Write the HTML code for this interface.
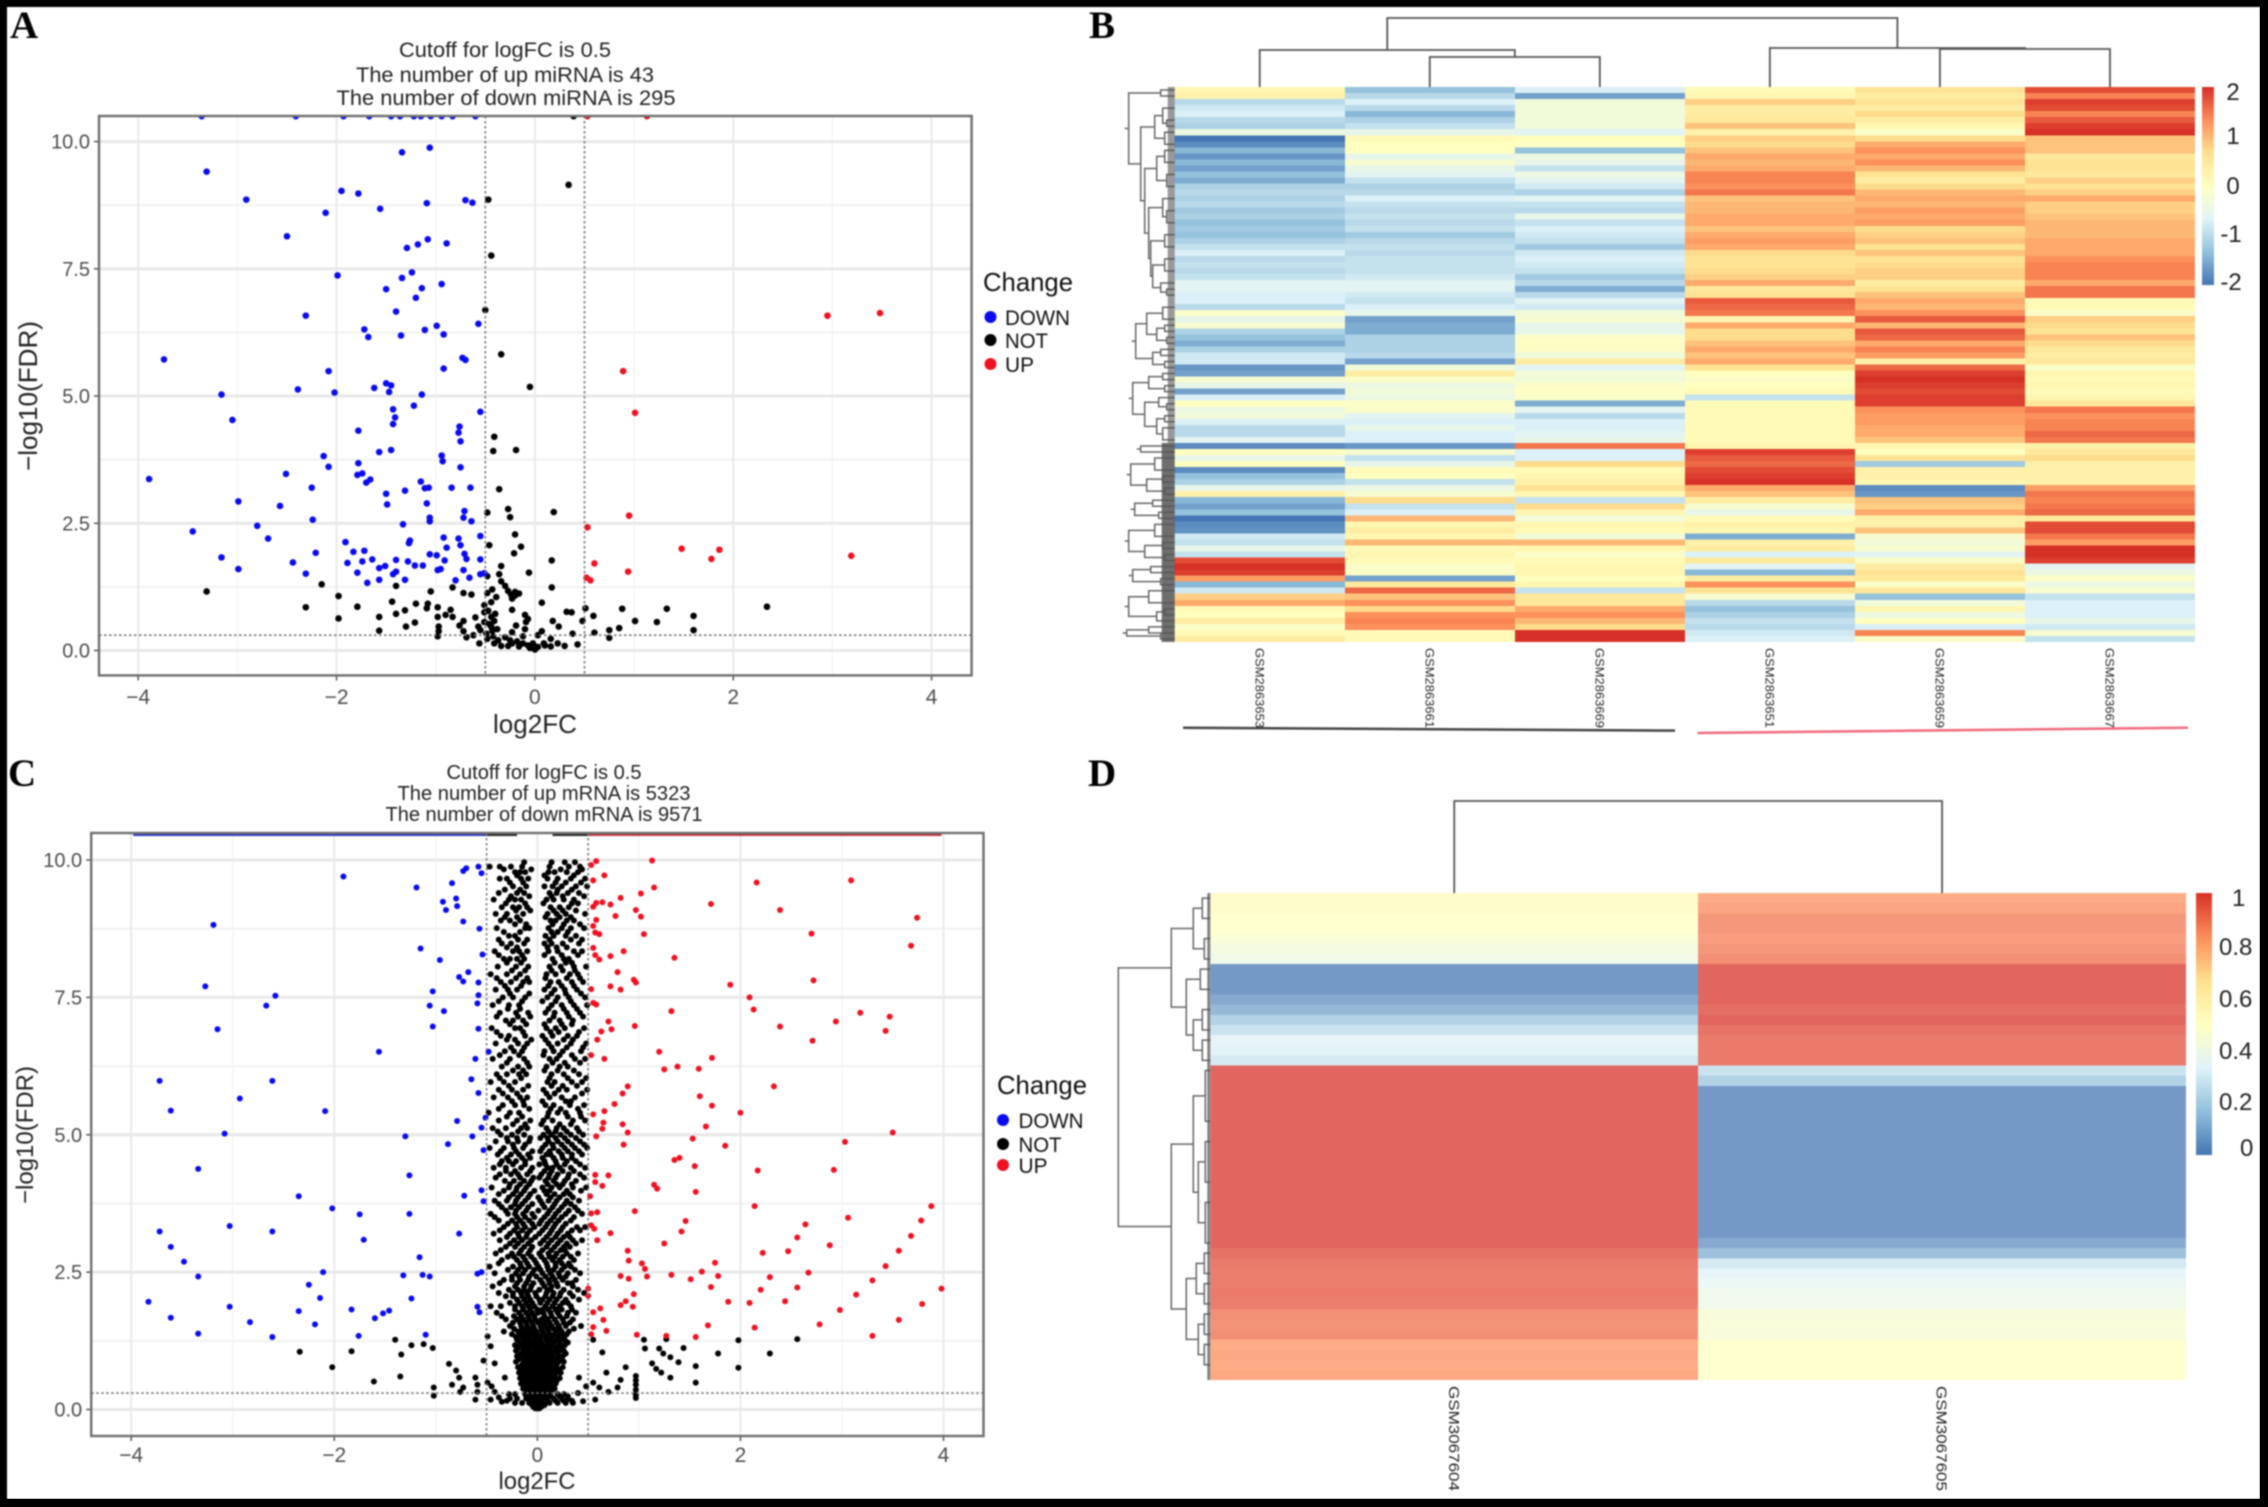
<!DOCTYPE html>
<html lang="en">
<head>
<meta charset="utf-8">
<title>Volcano plots and heatmaps of miRNA and mRNA</title>
<style>
html,body{margin:0;padding:0;background:#000;}
svg{display:block;font-family:"Liberation Sans",Arial,sans-serif;}
#content{filter:blur(.8px);}
.serif{font-family:"Liberation Serif","Times New Roman",serif;font-weight:bold;fill:#000;}
</style>
</head>
<body>
<svg id="root" xmlns="http://www.w3.org/2000/svg" width="2268" height="1507" viewBox="0 0 2268 1507">
<defs>
<linearGradient id="heatGrad" x1="0" y1="1" x2="0" y2="0">
<stop offset="0" stop-color="#4575B4"/><stop offset=".1667" stop-color="#91BFDB"/><stop offset=".3333" stop-color="#E0F3F8"/><stop offset=".5" stop-color="#FFFFBF"/><stop offset=".6667" stop-color="#FEE090"/><stop offset=".8333" stop-color="#FC8D59"/><stop offset="1" stop-color="#D73027"/>
</linearGradient>
<clipPath id="clipA"><rect x="99" y="116" width="873" height="560"/></clipPath>
<clipPath id="clipC"><rect x="91" y="833" width="893" height="603"/></clipPath>
</defs>
<rect x="0" y="0" width="2268" height="1507" fill="#000"/>
<g id="content">
<rect x="7" y="7" width="2253" height="1492" fill="#fff"/>
<text class="serif" x="10" y="38" font-size="39">A</text>
<text class="serif" x="1089" y="38" font-size="39">B</text>
<text class="serif" x="8" y="786" font-size="39">C</text>
<text class="serif" x="1088" y="786" font-size="39">D</text>

<g font-size="21" fill="#222" text-anchor="middle">
<text x="505" y="57" textLength="212" lengthAdjust="spacingAndGlyphs">Cutoff for logFC is 0.5</text>
<text x="505" y="82" textLength="298" lengthAdjust="spacingAndGlyphs">The number of up miRNA is 43</text>
<text x="506" y="105" textLength="339" lengthAdjust="spacingAndGlyphs">The number of down miRNA is 295</text>
</g>
<g font-size="20" fill="#222" text-anchor="middle">
<text x="544" y="779" textLength="195" lengthAdjust="spacingAndGlyphs">Cutoff for logFC is 0.5</text>
<text x="544" y="800" textLength="293" lengthAdjust="spacingAndGlyphs">The number of up mRNA is 5323</text>
<text x="544" y="821" textLength="317" lengthAdjust="spacingAndGlyphs">The number of down mRNA is 9571</text>
</g>

<text x="535" y="733" font-size="26" text-anchor="middle" fill="#222" textLength="84" lengthAdjust="spacingAndGlyphs">log2FC</text>
<text transform="translate(37,396) rotate(-90)" font-size="26" text-anchor="middle" fill="#222" textLength="150" lengthAdjust="spacingAndGlyphs">−log10(FDR)</text>
<text x="537" y="1489" font-size="24" text-anchor="middle" fill="#222" textLength="77" lengthAdjust="spacingAndGlyphs">log2FC</text>
<text transform="translate(33,1135) rotate(-90)" font-size="24" text-anchor="middle" fill="#222" textLength="138" lengthAdjust="spacingAndGlyphs">−log10(FDR)</text>

<g fill="#111">
<text x="983" y="291" font-size="26" textLength="90" lengthAdjust="spacingAndGlyphs">Change</text>
<circle cx="990.5" cy="317" r="6" fill="#0a0aee"/>
<text x="1005" y="325" font-size="21" textLength="65" lengthAdjust="spacingAndGlyphs">DOWN</text>
<circle cx="990.5" cy="340" r="6" fill="#000"/>
<text x="1005" y="348" font-size="21" textLength="43" lengthAdjust="spacingAndGlyphs">NOT</text>
<circle cx="990.5" cy="364" r="6" fill="#ee1122"/>
<text x="1005" y="372" font-size="21" textLength="29" lengthAdjust="spacingAndGlyphs">UP</text>
</g>
<g fill="#111">
<text x="997" y="1094" font-size="26" textLength="90" lengthAdjust="spacingAndGlyphs">Change</text>
<circle cx="1003" cy="1120" r="6" fill="#0a0aee"/>
<text x="1018.5" y="1128" font-size="21" textLength="65" lengthAdjust="spacingAndGlyphs">DOWN</text>
<circle cx="1003" cy="1144" r="6" fill="#000"/>
<text x="1018.5" y="1152" font-size="21" textLength="43" lengthAdjust="spacingAndGlyphs">NOT</text>
<circle cx="1003" cy="1165" r="6" fill="#ee1122"/>
<text x="1018.5" y="1173" font-size="21" textLength="29" lengthAdjust="spacingAndGlyphs">UP</text>
</g>

<rect x="2202" y="87" width="12" height="198" fill="url(#heatGrad)"/>
<g font-size="24" fill="#222" text-anchor="middle">
<text x="2233" y="100">2</text>
<text x="2233" y="144">1</text>
<text x="2233" y="194">0</text>
<text x="2231" y="242">-1</text>
<text x="2231" y="290">-2</text>
</g>
<rect x="2196" y="893" width="16" height="262" fill="url(#heatGrad)"/>
<g font-size="24" fill="#222">
<text x="2232" y="906">1</text>
<text x="2219" y="955">0.8</text>
<text x="2219" y="1007">0.6</text>
<text x="2219" y="1059">0.4</text>
<text x="2219" y="1110">0.2</text>
<text x="2240" y="1156">0</text>
</g>

<line x1="1183" y1="727.7" x2="1675" y2="730.6" stroke="#444" stroke-width="2.5"/>
<line x1="1697.5" y1="733" x2="2188" y2="727.7" stroke="#f0697e" stroke-width="2.5"/>
<g id="dyn"></g>
</g>
<rect x="2260" y="0" width="8" height="1507" fill="#000"/>
<rect x="0" y="1499" width="2268" height="8" fill="#000"/>
</svg>
<script>
// ---------- shared tick values ----------
const xTicks = [-4,-2,0,2,4];
const xTickLabels = ["−4","−2","0","2","4"];
const xMinorTicks = [-3,-1,1,3];
const yTicks = [0,2.5,5,7.5,10];
const yTickLabels = ["0.0","2.5","5.0","7.5","10.0"];
const yMinorTicks = [1.25,3.75,6.25,8.75];
const cutoffX = [-0.5,0.5];
const cutoffY = 0.3;

// ---------- panel A values ----------
const aDown = [[-3.36,10.5],[-2.41,10.5],[-1.93,10.5],[-1.67,10.5],[-1.45,10.5],[-1.36,10.5],[-1.22,10.5],[-1.15,10.5],[-1.05,10.5],[-.94,10.5],[-.83,10.5],[-.6,10.5],
[-1.34,9.79],[-1.06,9.88],[-3.31,9.41],[-2.91,8.86],[-1.95,9.03],[-1.78,8.98],[-1.56,8.68],[-2.11,8.6],[-1.09,8.79],[-.7,8.85],[-.63,8.8],[-2.5,8.14],[-1.29,7.91],[-1.18,7.98],[-1.08,8.08],[-.89,8],[-1.99,7.37],[-1.24,7.43],[-1.34,7.32],[-.94,7.2],[-1.14,7.12],[-1.5,7.1],[-1.2,6.93],[-1.4,6.66],[-2.31,6.58],[-.57,6.42],[-.99,6.38],[-1.11,6.3],[-1.72,6.31],[-1.68,6.16],[-1.35,6.19],[-.92,6.21],[-3.74,5.72],[-.73,5.75],[-.7,5.71],[-.92,5.54],[-2.08,5.49],[-3.16,5.03],[-2.39,5.13],[-2.02,5.07],[-1.62,5.16],[-1.5,5.25],[-1.45,5.21],[-1.47,5.08],[-1.14,5.03],[-1.22,4.81],[-1.43,4.74],[-.55,4.69],[-3.05,4.53],[-1.41,4.58],[-1.43,4.45],[-.76,4.4],[-.77,4.28],[-1.78,4.32],[-.75,4.11],[-1.45,3.94],[-1.57,3.9],[-.94,3.83],[-.93,3.72],[-2.13,3.82],[-1.78,3.68],[-2.08,3.61],[-.75,3.6],[-3.89,3.37],[-2.51,3.47],[-1.79,3.45],[-1.74,3.48],[-1.66,3.36],[-1.7,3.3],[-1.15,3.32],[-2.25,3.2],[-1.07,3.2],[-1.11,3.19],[-.84,3.2],[-.65,3.2],[-1.31,3.14],[-1.5,3.08],[-2.99,2.93],[-2.57,2.84],[-1.49,2.87],[-1.09,2.89],[-.71,2.74],[-.72,2.61],[-1.06,2.61],[-1.06,2.54],[-2.24,2.57],[-.64,2.54],[-1.33,2.48],[-2.8,2.45],[-3.45,2.34],[-2.69,2.2],[-.92,2.22],[-.77,2.2],[-.55,2.25],[-1.26,2.16],[-1.27,2.11],[-1.91,2.13],[-.75,2.07],[-.89,2.02],[-1.83,1.94],[-1.72,1.96],[-2.21,1.92],[-1.06,1.89],[-.99,1.87],[-.71,1.9],[-3.16,1.83],[-.69,1.8],[-.55,1.79],[-1.64,1.79],[-1.4,1.78],[-1.74,1.75],[-1.89,1.72],[-2.44,1.73],[-1.28,1.75],[-.91,1.77],[-1.21,1.67],[-1.13,1.67],[-1.51,1.66],[-1.57,1.62],[-.98,1.58],[-2.99,1.6],[-1.79,1.53],[-2.31,1.51],[-1.4,1.55],[-1.43,1.5],[-.95,1.6],[-.72,1.58],[-.55,1.5],[-.51,1.52],[-1.57,1.39],[-1.31,1.39],[-.8,1.38],[-.66,1.43],[-1.69,1.33]];
const aNot = [[.39,10.5],[-.47,8.86],[.34,9.15],[-.44,7.76],[-.5,6.69],[-.34,5.82],[-.05,5.18],[-.41,4.2],[-.42,3.92],[-.19,3.94],[-.36,3.17],[-.48,2.71],[-.27,2.78],[-.25,2.62],[.19,2.72],[-.2,2.28],[-.46,2.07],[-.14,2.04],[-.21,1.91],[.17,1.77],[-.34,1.66],[-.36,1.5],[-.06,1.53],[-.48,1.46],[-.34,1.36],[-.3,1.27],[.17,1.24],[-1.4,1.27],[-2.15,1.3],[-3.31,1.16],[-1.05,1.16],[-.83,1.24],[-.72,1.13],[-.64,1.1],[-.48,1.13],[-.27,1.17],[-.2,1.08],[-.23,1.02],[-1.98,1.07],[-1.44,.96],[-1.2,.92],[-1.08,.92],[.07,.94],[-.51,.89],[-2.31,.85],[-1.79,.86],[2.34,.86],[1.33,.82],[.88,.82],[.51,.83],[-1.09,.83],[-1.31,.79],[-.98,.85],[-.85,.8],[-.51,.75],[-.23,.8],[.32,.76],[.37,.75],[-1.4,.72],[.59,.68],[1.6,.68],[-1.57,.66],[-.98,.66],[-.83,.66],[-.44,.66],[-.1,.7],[-1.98,.63],[1.01,.58],[1.23,.56],[.18,.58],[.48,.58],[-1.21,.55],[-.72,.58],[-.51,.56],[-.41,.58],[-.09,.56],[.24,.47],[-1.3,.47],[-.97,.47],[-.76,.49],[-.57,.47],[-.44,.47],[-.19,.49],[.85,.44],[.75,.4],[1.6,.4],[-1.57,.39],[-.97,.38],[-.72,.38],[-.43,.39],[-.23,.36],[.07,.38],[.6,.35],[.38,.33],[-.98,.28],[-.69,.26],[-.48,.23],[-.3,.26],[-.12,.28],[.75,.25],[.16,.23],[-.56,.14],[-.41,.14],[-.23,.14],[-.12,.14],[-.02,.14],[.09,.14],[.23,.14],[.43,.12],[-.34,.09],[-.16,.08],[-.05,.05],[0,.02],[.16,.08],[.3,.09],[-.27,.09],[-.44,.95],[-.47,.78],[-.4,.72],[-.46,.52],[-.38,.42],[-.49,.33],[-.42,.28],[-.37,.2],[-.25,.2],[-.18,.18],[-.07,.1],[.03,.07],[.1,.1],[-.2,1.15],[-.24,1.1],[-.16,1.12],[-.43,1.2],[-.39,1.05],[-.62,.3],[-.9,.7],[-.6,.65],[-.55,.4],[-.1,.42],[-.07,.62],[.03,.3]];
const aUp = [[.53,10.5],[1.13,10.5],[2.95,6.58],[3.48,6.63],[.89,5.49],[1.01,4.67],[.95,2.65],[.53,2.42],[1.48,2],[1.86,1.98],[1.78,1.8],[3.19,1.86],[.6,1.71],[.94,1.55],[.52,1.43],[.56,1.38]];

// ---------- panel C values ----------
const cDown = [[-1.91,9.7],[-1.19,9.5],[-.73,9.8],[-.7,9.85],[-.58,9.88],[-.55,9.76],[-.84,9.58],[-.8,9.3],[-.93,9.24],[-.79,9.16],[-.9,9.09],[-3.19,8.82],[-.73,8.88],[-.57,8.75],[-1.15,8.39],[-.96,8.18],[-.54,8.28],[-3.27,7.7],[-.68,7.96],[-.77,7.87],[-.73,7.79],[-.58,7.77],[-1.03,7.61],[-2.58,7.53],[-.58,7.54],[-2.67,7.35],[-1.06,7.35],[-.59,7.39],[-.92,7.25],[-3.15,6.92],[-1.03,6.97],[-.58,6.93],[-1.56,6.51],[-.48,6.51],[-.61,6.38],[-3.72,5.98],[-2.61,5.98],[-.65,6.01],[-2.93,5.66],[-.58,5.76],[-3.61,5.44],[-2.09,5.43],[-.51,5.31],[-.79,5.25],[-.55,5.13],[-3.08,5.02],[-1.3,4.97],[-.64,4.97],[-.88,4.83],[-.53,4.72],[-3.34,4.38],[-1.26,4.26],[-2.35,3.88],[-.55,3.99],[-.72,3.89],[-.53,3.79],[-2.02,3.66],[-1.75,3.55],[-1.26,3.56],[-3.72,3.24],[-3.03,3.34],[-2.61,3.24],[-.77,3.2],[-1.71,3.09],[-3.61,2.96],[-1.16,2.77],[-3.48,2.69],[-2.11,2.5],[-3.34,2.42],[-1.32,2.44],[-1.13,2.45],[-1.06,2.42],[-.59,2.47],[-.55,2.5],[-2.25,2.27],[-2.14,2.03],[-1.24,2.02],[-3.83,1.96],[-3.03,1.87],[-.59,1.87],[-.57,1.77],[-2.35,1.79],[-1.83,1.82],[-1.46,1.8],[-1.52,1.75],[-1.6,1.66],[-3.61,1.67],[-2.83,1.59],[-2.19,1.55],[-3.34,1.38],[-2.61,1.32],[-1.76,1.34],[-1.1,1.36]];
const cUp = [[.58,9.98],[.53,9.91],[1.13,9.99],[.66,9.72],[.55,9.63],[2.16,9.59],[3.09,9.63],[1.15,9.5],[1.02,9.39],[.82,9.31],[1.71,9.2],[.58,9.22],[.64,9.23],[.72,9.19],[.55,9.15],[.97,9.09],[2.39,9.09],[1.02,8.97],[.77,8.98],[3.74,8.95],[.58,8.91],[.55,8.8],[.57,8.68],[.61,8.65],[1.05,8.65],[2.7,8.66],[3.68,8.44],[.85,8.34],[.55,8.4],[.57,8.27],[.72,8.25],[.61,8.19],[1.35,8.22],[.79,7.96],[.95,7.82],[.97,7.77],[2.72,7.81],[.72,7.7],[.82,7.64],[1.9,7.73],[.53,7.65],[2.09,7.5],[.55,7.4],[.58,7.37],[2.13,7.28],[1.32,7.25],[3.18,7.22],[3.47,7.15],[2.94,7.06],[.7,7.06],[2.39,6.97],[.96,6.98],[.73,6.92],[.63,6.88],[3.43,6.89],[.59,6.73],[2.71,6.71],[1.2,6.51],[.53,6.45],[1.72,6.4],[.66,6.38],[1.38,6.24],[1.25,6.19],[1.59,6.2],[.89,5.88],[2.33,5.88],[.84,5.75],[1.6,5.7],[.76,5.56],[1.72,5.53],[.66,5.43],[2,5.4],[.55,5.37],[.84,5.19],[.65,5.22],[1.66,5.15],[3.5,5.04],[.64,5.11],[.89,5.04],[.58,4.97],[1.53,4.93],[3.03,4.87],[.85,4.82],[1.85,4.8],[1.4,4.58],[1.35,4.54],[1.55,4.43],[2.17,4.35],[2.92,4.36],[.7,4.26],[.57,4.27],[.57,4.14],[.64,4.07],[1.15,4.09],[1.18,4.02],[1.56,3.96],[.52,3.88],[2.14,3.7],[3.88,3.7],[.59,3.59],[.96,3.61],[.53,3.57],[3.06,3.49],[1.46,3.43],[3.78,3.44],[2.64,3.37],[.53,3.35],[.56,3.29],[1.42,3.24],[.72,3.21],[3.68,3.16],[2.56,3.13],[.59,3.08],[1.25,3.02],[2.88,2.99],[3.56,2.89],[.89,2.89],[2.47,2.88],[2.22,2.85],[.9,2.71],[1.75,2.67],[1.03,2.66],[3.43,2.61],[1.06,2.56],[1.62,2.51],[2.67,2.49],[.82,2.43],[1.32,2.45],[1.08,2.42],[1.78,2.43],[2.29,2.41],[.9,2.38],[1.51,2.37],[3.3,2.35],[1.71,2.23],[2.56,2.22],[3.98,2.2],[2.2,2.18],[.5,2.2],[3.14,2.09],[.95,2.1],[.5,2.07],[.87,1.97],[1.88,1.96],[2.09,1.94],[2.44,1.97],[.82,1.9],[.94,1.87],[3.79,1.92],[2.98,1.81],[.62,1.84],[.55,1.77],[.55,1.5],[.65,1.63],[3.56,1.63],[2.78,1.55],[1.68,1.53],[2.14,1.49],[.68,1.43],[.98,1.36],[3.3,1.34],[1.27,1.34],[1.56,1.32],[.53,1.37]];
const cNotOutliers = [[-2.34,1.05],[-1.83,1.06],[-2.02,.77],[-1.4,1.27],[-1.24,1.17],[-1.12,1.19],[-1.03,1.12],[-1.34,1],[-1.61,.51],[-1.35,.6],[-1.02,.4],[-1.02,.25],[-.87,.83],[-.8,.71],[-.77,.58],[-.84,.45],[-.73,.4],[-.76,.32],[-.61,.58],[-.59,.45],[-.59,.32],[-.61,.18],[-.49,.49],[-.53,.89],[-.46,1.15],[-.49,1.33],[-.42,.84],[-.46,.18],[-.35,.14],[-.32,.58],[1.98,1.26],[2.56,1.28],[2.29,1.02],[1.78,1.02],[1.98,.76],[1.56,.79],[1.56,.49],[1.44,1.12],[1.27,1.28],[1.05,1.27],[1.2,1.11],[1.24,1.02],[1.31,.95],[1.39,.86],[1.13,.84],[1.17,.74],[1.22,.67],[1.31,.58],[1.06,1.11],[.87,.77],[.68,.67],[.64,1.04],[.55,1.27],[.97,.61],[.97,.53],[.97,.45],[.97,.36],[.97,.27],[.97,.21],[.82,.54],[.79,.4],[.7,.32],[.61,.4],[.55,.49],[.57,.18],[.41,.58],[.4,.3],[.45,.15],[.35,.12],[.3,.2],[.48,.42],[-.42,.32],[-.38,.22],[-.3,.16],[-.45,.42]];
// rows of the dense NOT cloud: [log10 value, [log2FC values...]]
const cNotRows = [
[9.96,[-.13,.27,.37,.14]],[9.88,[-.47,-.37,-.15,.12,.31,.42,-.26]],[9.78,[-.17,-.12,.11,.17,-.22,.4,.29]],[9.66,[-.37,-.3,-.09,.1,.2,.33,.47,-.16]],[9.52,[-.24,-.11,.07,.15,.24,.38,.49]],[9.4,[-.38,-.2,-.13,.12,.19,.3,.41]],[9.28,[-.43,-.28,-.22,-.16,.09,.16,.26,.36]],[9.14,[-.35,-.24,-.18,-.1,.13,.22,.31]],[9.02,[-.41,-.3,-.14,.1,.19,.47,.28]],[8.9,[-.36,-.27,-.17,.13,.18,.29,.36]],[8.76,[-.4,-.12,-.08,.11,.24,.33,.46]],[8.62,[-.28,-.22,.08,.16,.28,.38]],[8.48,[-.35,-.26,-.13,.07,.14,.25,.41]],[8.34,[-.42,-.24,-.18,-.1,.11,.2,.36,.44]],[8.2,[-.33,-.27,-.2,-.13,.15,.26,.31]],[8.06,[-.39,-.21,-.09,.12,.23,.36,.48]],[7.92,[-.46,-.3,-.17,.09,.18,.4,.32]],[7.78,[-.36,-.26,-.14,-.08,.13,.21,.34,.45]],[7.64,[-.41,-.29,-.2,.07,.17,.27,.39]],[7.5,[-.34,-.24,-.12,.1,.2,.31,.47]],[7.36,[-.44,-.28,-.18,.14,.24,.36,.49]],[7.22,[-.37,-.21,-.09,.08,.17,.29,.42]],[7.08,[-.31,-.24,-.14,.12,.22,.35]],[6.94,[-.45,-.22,-.17,.09,.18,.27,.46]],[6.8,[-.36,-.28,-.12,.05,.15,.3,.39]],[6.66,[-.41,-.19,-.1,.11,.2,.33,.48]],[6.52,[-.32,-.23,-.15,.07,.16,.25,.43]],[6.38,[-.44,-.27,-.13,.12,.19,.37,.47]],[6.24,[-.35,-.19,-.08,.09,.22,.3]],[6.1,[-.4,-.3,-.18,-.11,.14,.26,.41]],[5.96,[-.46,-.33,-.22,.1,.17,.34,.44]],[5.82,[-.38,-.25,-.14,.06,.21,.29,.49]],[5.68,[-.43,-.29,-.17,-.1,.12,.24,.37]],[5.54,[-.34,-.22,-.13,.08,.16,.32,.46]],[5.4,[-.48,-.27,-.18,.11,.2,.28,.42]],[5.26,[-.38,-.2,-.07,.06,.15,.35,.47]],
[5.12,[-.44,-.31,-.16,-.1,.09,.19,.26,.39]],[5,[-.36,-.25,-.13,.06,.14,.23,.33,.45]],[4.88,[-.41,-.29,-.19,-.08,.11,.2,.3,.42]],[4.76,[-.47,-.33,-.23,-.14,.05,.16,.27,.37,.49]],[4.64,[-.39,-.26,-.18,-.09,.09,.13,.24,.34,.44]],[4.52,[-.35,-.28,-.21,-.12,.07,.18,.29,.38]],[4.4,[-.43,-.31,-.16,-.05,.1,.15,.22,.33,.47]],[4.28,[-.37,-.26,-.19,-.1,.04,.12,.2,.31,.42]],[4.16,[-.32,-.23,-.13,-.06,.08,.16,.27,.38]],[4.04,[-.45,-.28,-.2,-.11,.05,.14,.22,.35,.48]],[3.92,[-.38,-.24,-.16,-.07,.09,.17,.26,.32]],[3.8,[-.42,-.3,-.21,-.12,.03,.11,.19,.29,.41]],[3.68,[-.35,-.26,-.18,-.09,.07,.15,.24,.37]],[3.56,[-.46,-.29,-.22,-.14,-.05,.1,.18,.28,.44]],[3.44,[-.38,-.25,-.17,-.08,.04,.13,.21,.33]],[3.32,[-.33,-.2,-.12,-.03,.08,.16,.25,.39,.47]],[3.2,[-.43,-.27,-.19,-.1,.02,.12,.2,.3]],[3.08,[-.37,-.23,-.15,-.06,.06,.14,.23,.35,.44]],[2.96,[-.31,-.22,-.13,-.05,.09,.17,.26,.32]],[2.84,[-.41,-.25,-.18,-.09,.02,.11,.19,.29,.4]],[2.72,[-.35,-.2,-.12,-.03,.07,.15,.22,.36]],[2.6,[-.47,-.24,-.16,-.08,.01,.1,.18,.27,.33]],[2.48,[-.42,-.21,-.14,-.05,.05,.13,.21,.3,.42]],[2.36,[-.33,-.25,-.17,-.09,.03,.11,.17,.25,.38]],[2.24,[-.44,-.22,-.13,-.06,.07,.14,.2,.35]],[2.12,[-.38,-.24,-.16,-.1,-.02,.09,.16,.23,.32,.46]],[2,[-.2,-.13,-.07,.02,.05,.12,.19,.28,.41]],[1.88,[-.46,-.36,-.22,-.15,-.09,-.03,.08,.15,.22,.33]],[1.76,[-.4,-.18,-.11,-.05,.01,.06,.13,.2,.3,.38]],[1.64,[-.31,-.2,-.14,-.08,-.02,.04,.1,.17,.25,.35]],[1.52,[-.27,-.16,-.1,-.04,.03,.08,.14,.21,.28,.43]],
[1.42,[-.33,-.19,-.13,-.07,-.01,.05,.11,.18,.24,.31]],[1.32,[-.21,-.15,-.09,-.03,.02,.08,.14,.2,.26]],[1.22,[-.17,-.11,-.06,0,.04,.1,.16,.22,.3]],[1.12,[-.19,-.13,-.08,-.03,.02,.07,.12,.18,.24]],[1.02,[-.16,-.11,-.05,-.01,.04,.09,.14,.2,.28]],[.92,[-.18,-.12,-.07,-.02,.03,.07,.12,.17,.23]],[.82,[-.15,-.1,-.05,-.01,.03,.08,.13,.19]],[.72,[-.16,-.11,-.06,-.02,.02,.06,.11,.16,.21]],[.62,[-.14,-.09,-.05,-.01,.03,.07,.11,.17]],[.52,[-.13,-.09,-.05,-.02,.02,.05,.09,.14,.19]],[.42,[-.12,-.08,-.04,0,.03,.07,.11,.15]],[.33,[-.1,-.07,-.03,0,.03,.06,.1,.14]],[.24,[-.09,-.05,-.02,.01,.04,.07,.12,.22,.3]],[.16,[-.07,-.04,-.01,.02,.05,.09,.18,.26,.34]],[.08,[-.05,-.02,.01,.04,.07]],[.02,[-.02,0,.02]]];
// additional NOT readings filling the cloud between those rows
const cNotRowsB = [
[9.83,[-.33,-.06,.23,.44]],[9.72,[-.2,.07,.36]],[9.59,[-.27,-.14,.18,.28,.43]],[9.46,[-.32,-.17,.2,.34]],[9.34,[-.26,-.08,.14,.25,.46]],[9.21,[-.31,-.12,.06,.34,.4]],[9.08,[-.21,-.07,.16,.25,.38]],[8.96,[-.32,-.2,.08,.22,.33]],[8.83,[-.22,-.11,.15,.26,.42]],[8.69,[-.33,-.17,.14,.2,.3]],[8.55,[-.38,-.19,-.1,.12,.33,.44]],[8.41,[-.3,-.2,.1,.19,.29]],[8.27,[-.38,-.15,.07,.24,.4]],[8.13,[-.3,-.16,.17,.28,.34]],[7.99,[-.25,-.12,.14,.25,.37]],[7.85,[-.4,-.21,-.1,.08,.29,.42]],[7.71,[-.32,-.16,.11,.24,.36]],[7.57,[-.27,-.08,.14,.28,.43]],[7.43,[-.38,-.15,.05,.18,.33]],[7.29,[-.29,-.17,.11,.26,.39]],[7.15,[-.4,-.19,-.07,.16,.31,.45]],[7.01,[-.27,-.11,.07,.24,.34]],[6.87,[-.4,-.14,.13,.21,.41]],[6.73,[-.3,-.22,-.06,.08,.26,.35]],[6.59,[-.26,-.13,.14,.29,.45]],[6.45,[-.37,-.18,.06,.22,.34]],[6.31,[-.3,-.1,.15,.27,.42]],[6.17,[-.24,-.14,.07,.2,.36]],[6.03,[-.37,-.16,.12,.3,.48]],[5.89,[-.28,-.09,.14,.25,.39]],[5.75,[-.34,-.2,.09,.17,.44]],[5.61,[-.25,-.14,.05,.28,.33]],[5.47,[-.38,-.08,.13,.23,.4]],[5.33,[-.3,-.15,.1,.3,.43]],[5.19,[-.24,-.12,.04,.22,.33]],[5.06,[-.39,-.19,.11,.18,.29,.41]],
[4.94,[-.3,-.2,-.07,.03,.1,.18,.27,.38]],[4.82,[-.24,-.12,.08,.15,.24,.34,.46]],[4.7,[-.36,-.21,-.05,.03,.12,.21,.3,.41]],[4.58,[-.3,-.15,-.07,.05,.16,.25,.34]],[4.46,[-.37,-.24,-.12,.02,.08,.19,.27,.42]],[4.34,[-.31,-.22,-.07,.07,.14,.25,.36]],[4.22,[-.41,-.17,-.04,.02,.11,.18,.3,.46]],[4.1,[-.27,-.17,-.08,.1,.19,.25,.34]],[3.98,[-.33,-.21,-.13,-.03,.07,.12,.29,.43]],[3.86,[-.28,-.19,-.09,.01,.13,.22,.35]],[3.74,[-.38,-.22,-.15,-.05,.05,.17,.27,.33]],[3.62,[-.31,-.21,-.11,.01,.12,.21,.31,.4]],[3.5,[-.42,-.2,-.12,-.03,.07,.16,.24,.36]],[3.38,[-.29,-.21,-.14,-.05,.02,.1,.18,.28]],[3.26,[-.37,-.23,-.15,-.07,.05,.14,.23,.34,.42]],[3.14,[-.3,-.18,-.11,-.02,.09,.18,.26,.32]],[3.02,[-.27,-.19,-.09,.03,.11,.2,.29,.38]],[2.9,[-.36,-.16,-.07,.05,.14,.23,.27]],[2.78,[-.29,-.23,-.14,-.06,.04,.12,.17,.25,.33]],[2.66,[-.38,-.17,-.1,-.01,.09,.18,.24,.31]],[2.54,[-.29,-.19,-.12,-.03,.03,.11,.16,.24,.37]],[2.42,[-.25,-.18,-.08,-.01,.08,.15,.22,.28]],[2.3,[-.37,-.2,-.11,-.04,.05,.12,.19,.3,.34]],[2.18,[-.28,-.19,-.13,-.07,.02,.1,.13,.26,.4]],[2.06,[-.31,-.24,-.15,-.09,-.01,.08,.15,.22,.35]],[1.94,[-.27,-.18,-.11,-.05,.03,.1,.17,.25,.3]],[1.82,[-.22,-.14,-.07,0,.05,.11,.18,.24,.34]],[1.7,[-.35,-.23,-.16,-.09,-.03,.07,.14,.22,.29]],[1.58,[-.24,-.17,-.11,-.05,.01,.06,.12,.19,.26,.32]],[1.47,[-.23,-.15,-.09,-.03,.04,.1,.16,.22,.36]],
[1.37,[-.25,-.17,-.11,-.05,0,.06,.12,.17,.23,.29]],[1.27,[-.2,-.13,-.08,-.02,.03,.09,.13,.19,.24,.27]],[1.17,[-.22,-.15,-.1,-.04,0,.05,.1,.15,.21,.27]],[1.07,[-.21,-.14,-.09,-.03,.02,.07,.12,.17,.22,.26]],[.97,[-.2,-.14,-.09,-.04,.01,.05,.1,.15,.21,.25]],[.87,[-.21,-.13,-.08,-.03,.01,.06,.1,.15,.21,.26]],[.77,[-.19,-.13,-.08,-.04,0,.05,.09,.14,.19,.25]],[.67,[-.18,-.12,-.07,-.03,.01,.05,.09,.13,.19,.23]],[.57,[-.17,-.11,-.07,-.03,.01,.04,.08,.12,.17,.22]],[.47,[-.16,-.1,-.06,-.02,.01,.05,.09,.13,.18]],[.38,[-.14,-.09,-.05,-.02,.01,.05,.08,.12,.17]],[.28,[-.12,-.07,-.03,.02,.05,.09,.13,.2,-.22,-.28,.26]],[.2,[-.11,-.06,-.03,.03,.06,.1,.16,-.2,-.27,.24,.3]],[.12,[-.08,-.05,-.02,.03,.06,.12,-.15,-.22,.2,.28]],[.05,[-.04,-.01,.01,.04]]];
// saturated points stacked on the panel C top edge, as [from, to] ranges of log2FC
const cTopDown = [-3.98,-0.5];
const cTopNot = [[-0.5,-0.2],[0.15,0.5]];
const cTopUp = [0.5,3.98];

// ---------- panel B values (row z-scores, one array per sample) ----------
const bSamples = ["GSM2863653","GSM2863661","GSM2863669","GSM2863651","GSM2863659","GSM2863667"];
const bCol1 = [.2,.3,-1,-.8,-.7,-1,-1.1,-.4,-2,-1.8,-1.4,-1.7,-1.4,-1.6,-1.3,-1.5,-1.1,-1,-1.1,-1,-1.2,-1.1,-1.3,-1.2,-1.3,-1.1,-.9,-.7,-1,-.9,-1,-.9,-.6,-.6,-.7,-.7,-1,-.1,-.5,-.2,-1.1,-1.3,-1.5,-1.1,-.8,-.8,-1.7,-1.6,-.2,-.5,-1.6,-.7,0,-.4,-.3,-.7,-1,-1,-.6,-1.8,0,-.5,0,-1.8,-1.3,-1.1,-.5,.3,-1.4,-1.6,-1.3,-2,-1.8,-1.75,-.8,-.9,-.5,-.9,1.8,2,1.9,1.2,-1.4,-.8,.8,1.1,.1,0,.4,-.1,.1,.4];
const bCol2 = [-1.3,-1,-.7,-1,-1.4,-1.1,-.9,-.5,.1,0,0,-.5,-.2,-.5,-.6,-.9,-1.1,-1,-.7,-.9,-1,-.9,-1,-.9,-1.2,-1,-.9,-1,-.9,-.9,-.9,-.8,-.6,-.6,-.8,-.9,-.7,-.5,-1.6,-1.5,-1.5,-1.1,-1.1,-1.1,-1,-1.6,-.3,.4,-.1,-.4,-.3,-.4,-.1,-.1,-.6,-.7,-.5,-.7,-.7,-1.7,-.2,-.9,-.5,.1,0,-.9,-.4,-.2,.7,-.9,-.7,1,.2,.4,.2,1,.1,.2,.1,-.1,-.1,-1.6,.5,1.6,.9,1.3,.7,1.3,1.4,1.3,.1,.1];
const bCol3 = [-.7,-1.6,-.3,-.3,-.3,-.3,-.3,-.6,.05,-.05,-1.3,-.4,-.5,-.9,-.4,-.6,-.8,-1.1,-.6,-.9,-1,-.5,-.9,-.7,-.8,-.9,-1.2,-.8,-.7,-.8,-.9,-1.2,-1,-1.5,-1,-.6,-.8,-.3,-.2,-.5,-.5,-.1,-.05,-.1,-.3,.4,-.6,-.3,-.3,-.1,-.05,-.1,-1.5,-.6,-1,-.7,-.7,-.6,-.5,1.5,-.7,-.7,.7,.1,.2,.3,.6,.2,-.9,.7,.2,-.3,.2,.1,-.3,1,.2,-.1,.1,.2,.2,0,.2,-.9,.5,.5,1.1,1.3,1,.7,2,2];
const bCol4 = [.1,.2,.8,.4,.4,.5,.9,.3,.8,.7,.9,1.1,1,1.1,1.4,1.4,1.3,1.5,.9,1,1,1.1,1.1,.9,1.1,1.2,1.1,.7,.6,.6,.7,.8,1.1,.5,.6,1.7,1.6,1.5,.2,1.1,.7,.7,.9,1.1,.9,1.1,.6,0,-.1,0,.1,-.9,.1,.1,.1,.1,.1,.1,.1,.2,1.9,1.7,1.6,1.8,1.9,2,1.1,.9,.4,-.2,-.5,.1,.3,.2,-1.5,.3,.4,-.7,.5,-.6,-1.4,.4,1.3,.6,-.2,-1,-1.3,-1.1,-.9,-1,-.8,-.7];
const bCol5 = [.6,.4,.6,.4,.7,.4,.2,-.1,.7,1.1,1.3,1.1,1.3,1,.6,.4,.7,1,1.1,1,1.2,1.1,1.2,.7,.8,.9,.6,.9,.6,.7,.8,.8,.4,.6,.9,1.1,1,1.3,1.7,1,1.7,1.6,1.1,1.4,1.2,.3,1.6,1.9,2,1.9,1.8,1.9,1.9,1.3,1.2,1.2,1.1,1.1,.9,.2,0,.6,-1.2,.3,.3,.2,-1.8,-1.7,.9,.8,1.1,.3,.3,.9,-.2,-.3,-.2,-.6,-.1,.4,.6,.5,-.1,.5,-1.3,-.3,.2,-.4,0,-.7,1.4,-.1];
const bCol6 = [1.8,1.4,1.9,1.8,1.4,1.7,1.9,2,.9,.9,.9,.5,.6,.6,.5,.8,.6,.8,1.1,.8,.8,.9,1,1,1,1.1,1.1,1.1,1.3,1.4,1.4,1.4,1.1,1.5,1.5,.1,.1,-.1,.8,.7,.6,.9,.7,.5,.4,.5,-.1,.2,.1,.2,.1,.2,.5,1.5,1.3,1.4,1.4,1.6,1.5,.3,.5,.7,.3,.3,.3,.3,1.2,1.5,1.4,1.5,1.6,.5,1.8,1.8,1.5,1.2,2,2,1.9,-.6,-.4,-.1,-.4,-.2,-.9,-.7,-.7,-.7,-.5,-.8,-.2,-.9];
const bColTree = [69,[37,0,[30,1,2]],[39,3,[38,4,5]]];
const bRowForest = [
 [46,[14,0,1],[34,[20,[12,3,[8,5,6]],[10,7,9]],[30,[18,[10,10,12],[8,14,16]],[26,[12,18,[8,20,22]],[24,[10,24,26],[22,[10,28,30],[14,32,[8,33,34]]]]]]]],
 [39,[28,[12,36,38],[18,[10,39,40],[8,41,42]]],[22,[14,43,44],[10,45,46]]],
 [42,[26,[12,47,48],[10,49,50]],[30,[16,51,[8,52,53]],[18,[10,54,55],[12,56,58]]]],
 [34,59,60],
 [44,[20,61,63],[28,[12,64,65],[10,66,67]]],
 [40,[22,68,69],[16,70,71]],
 [46,[20,72,74],[30,[12,75,76],[10,77,78]]],
 [42,[24,79,80],[14,81,82]],
 [46,[26,83,85],[18,[10,86,87],88]],
 [48,[26,89,90],[14,90,91]]
];

// ---------- panel D values (one array per sample) ----------
const dSamples = ["GSM3067604","GSM3067605"];
const dCol1 = [.52,.52,.5,.5,.47,.43,.4,0,0,0,.05,.1,.18,.25,.33,.32,.28,1,1,1,1,1,1,1,1,1,1,1,1,1,1,1,1,1,1,.97,.95,.94,.94,.95,.94,.9,.89,.9,.83,.84,.83,.84];
const dCol2 = [.83,.85,.88,.88,.87,.88,.9,1,1,1,1,.98,1,.97,.95,.95,.95,.25,.18,0,0,0,0,0,0,0,0,0,0,0,0,0,0,0,.05,.12,.28,.33,.36,.39,.39,.45,.46,.45,.5,.5,.5,.5];
const dColTree = [92,0,1];
const dRowTree = [92,[39,[17,[8,0,2],[6,4,6]],[24,[10,7,9],[17,[8,11,13],[8,14,16]]]],[39,[17,[5,17,22],[12,[5,24,28],[5,30,34]]],[24,[14,[6,35,37],[6,38,40]],[12,[6,41,43],[6,44,46]]]]];

// ---------- drawing helpers ----------
const NS = "http://www.w3.org/2000/svg";
const dyn = document.getElementById("dyn");
function mk(tag, attrs, parent){
  const el = document.createElementNS(NS, tag);
  for (const k in attrs) el.setAttribute(k, attrs[k]);
  (parent || dyn).appendChild(el);
  return el;
}
function linScale(d0, p0, d1, p1){ return v => p0 + (v - d0) * (p1 - p0) / (d1 - d0); }

const stops = [[69,117,180],[145,191,219],[224,243,248],[255,255,191],[254,224,144],[252,141,89],[215,48,39]];
function rampColor(t){
  t = Math.max(0, Math.min(1, t)) * 6;
  const i = Math.min(5, Math.floor(t)), f = t - i;
  const c = stops[i].map((s, k) => Math.round(s + (stops[i + 1][k] - s) * f));
  return "rgb(" + c.join(",") + ")";
}

function drawVolcano(cfg){
  const x = linScale(-4, cfg.x4n, 4, cfg.x4p);
  const y = linScale(0, cfg.y0, 10, cfg.y10);
  const g = mk("g", {});
  
  
  const bg = mk("rect", {x:cfg.left, y:cfg.top, width:cfg.right-cfg.left, height:cfg.bottom-cfg.top, fill:"#fff"}, g);
  
  
  yMinorTicks.forEach(v => {
    const l = mk("line", {x1:cfg.left, x2:cfg.right, y1:y(v), y2:y(v), stroke:"#f1f1f1", "stroke-width":2}, g);
    
    
  });
  xMinorTicks.forEach(v => {
    const l = mk("line", {y1:cfg.top, y2:cfg.bottom, x1:x(v), x2:x(v), stroke:"#f3f3f3", "stroke-width":1.2}, g);
    
    
  });
  yTicks.forEach((v, i) => {
    const l = mk("line", {x1:cfg.left, x2:cfg.right, y1:y(v), y2:y(v), stroke:"#e8e8e8", "stroke-width":3}, g);
    
    
    const t = mk("line", {x1:cfg.left-5, x2:cfg.left, y1:y(v), y2:y(v), stroke:"#555", "stroke-width":1.5}, g);
    
    
    const s = mk("text", {x:cfg.left-9, y:y(v)+7, "font-size":20, "text-anchor":"end", fill:"#4d4d4d"}, g);
    s.textContent = yTickLabels[i];
    
    
  });
  xTicks.forEach((v, i) => {
    const l = mk("line", {y1:cfg.top, y2:cfg.bottom, x1:x(v), x2:x(v), stroke:"#e8e8e8", "stroke-width":1.8}, g);
    
    
    const t = mk("line", {y1:cfg.bottom, y2:cfg.bottom+5, x1:x(v), x2:x(v), stroke:"#555", "stroke-width":1.5}, g);
    
    
    const s = mk("text", {x:x(v), y:cfg.tickY, "font-size":21, "text-anchor":"middle", fill:"#4d4d4d"}, g);
    s.textContent = xTickLabels[i];
    
    
  });
  const marks = mk("g", {"clip-path":"url(#" + cfg.clip + ")"}, g);
  
  
  (cfg.bands || []).forEach(b => {
    const l = mk("line", {x1:x(b[0]), x2:x(b[1]), y1:y(10.5), y2:y(10.5), stroke:b[2], "stroke-width":7}, marks);
    
    
  });
  cfg.series.forEach(s => {
    s.pts.forEach(p => {
      const c = mk("circle", {cx:x(p[0]), cy:y(p[1]), r:cfg.r, fill:s.color}, marks);
      
      
    });
  });
  cutoffX.forEach(v => {
    const l = mk("line", {y1:cfg.top, y2:cfg.bottom, x1:x(v), x2:x(v), stroke:"#777", "stroke-width":1.6, "stroke-dasharray":"2.5 2.5"}, g);
    
    
  });
  const h = mk("line", {x1:cfg.left, x2:cfg.right, y1:y(cutoffY), y2:y(cutoffY), stroke:"#777", "stroke-width":1.6, "stroke-dasharray":"2.5 2.5"}, g);
  
  
  const b = mk("rect", {x:cfg.left, y:cfg.top, width:cfg.right-cfg.left, height:cfg.bottom-cfg.top, fill:"none", stroke:"#6e6e6e", "stroke-width":2.4}, g);
  
  
}

function treePath(node, leafPos, base, horizontal){
  let d = "";
  function walk(n){
    if (typeof n === "number") return {p:leafPos(n), h:0};
    const a = walk(n[1]), b = walk(n[2]), lev = base - n[0];
    const la = base - a.h, lb = base - b.h;
    if (horizontal) d += "M" + a.p + " " + la + "V" + lev + "H" + b.p + "V" + lb;
    else d += "M" + la + " " + a.p + "H" + lev + "V" + b.p + "H" + lb;
    return {p:(a.p + b.p) / 2, h:n[0]};
  }
  const r = walk(node);
  return {d:d, root:r};
}

function drawHeat(cfg){
  const g = mk("g", cfg.opacity ? {"fill-opacity":cfg.opacity} : {});
  
  
  const nRows = cfg.cols[0].length;
  const cw = (cfg.right - cfg.left) / cfg.cols.length;
  const rh = (cfg.bottom - cfg.top) / nRows;
  const colX = linScale(0, cfg.left, cfg.cols.length, cfg.right);
  const rowY = linScale(0, cfg.top, nRows, cfg.bottom);
  const col = linScale(cfg.vMin, 0, cfg.vMax, 1);
  cfg.cols.forEach((arr, c) => {
    arr.forEach((v, r) => {
      const e = mk("rect", {x:colX(c), y:rowY(r), width:cw, height:rh, fill:rampColor(col(v)), "shape-rendering":"crispEdges"}, g);
      
      
    });
  });
  const top = treePath(cfg.colTree, i => colX(i + .5), cfg.top, true);
  const tp = mk("path", {d:top.d, fill:"none", stroke:"#555", "stroke-width":1.8});
  
  
  cfg.rowTrees.forEach(t => {
    const rp = treePath(t, i => rowY(i + .5), cfg.left, false);
    const p = mk("path", {d:rp.d + "M" + (cfg.left - t[0]) + " " + rp.root.p + "h-" + cfg.stub, fill:"none", stroke:"#666", "stroke-width":1.5});
    
    
  });
  cfg.combs.forEach(k => {
    const cm = mk("rect", {x:cfg.left-k[0], y:rowY(k[1]), width:k[0], height:rowY(k[2])-rowY(k[1]), fill:"#555", opacity:k[3]});
    
    
  });
  cfg.names.forEach((n, i) => {
    const t = mk("text", {transform:"translate(" + (colX(i+.5)-cfg.labelSize*.36) + "," + cfg.labelY + ") rotate(90)", "font-size":cfg.labelSize, fill:"#222", textLength:cfg.labelLen, lengthAdjust:"spacingAndGlyphs"});
    t.textContent = n;
    
    
  });
}

const notRowsFlat = [];
cNotRows.concat(cNotRowsB).forEach(row => row[1].forEach(v => notRowsFlat.push([v, row[0]])));

drawVolcano({id:"a", clip:"clipA", left:99, right:971.6, top:116, bottom:675.4, x4n:138.2, x4p:931.6, y0:650.5, y10:141.6, tickY:704, r:3.3,
  series:[{name:"not",color:"#000",pts:aNot},{name:"down",color:"#0a0aee",pts:aDown},{name:"up",color:"#ee1122",pts:aUp}]});
drawVolcano({id:"c", clip:"clipC", left:91.2, right:983.5, top:833, bottom:1436, x4n:131.2, x4p:943.5, y0:1409.5, y10:860, tickY:1462, r:3,
  bands:[[cTopDown[0],cTopDown[1],"#2f34c8"],[cTopNot[0][0],cTopNot[0][1],"#222"],[cTopNot[1][0],cTopNot[1][1],"#222"],[cTopUp[0],cTopUp[1],"#c8303f"]],
  series:[{name:"not",color:"#000",pts:notRowsFlat.concat(cNotOutliers)},{name:"down",color:"#0a0aee",pts:cDown},{name:"up",color:"#ee1122",pts:cUp}]});

drawHeat({id:"b", cols:[bCol1,bCol2,bCol3,bCol4,bCol5,bCol6], left:1174.7, right:2195, top:87, bottom:642, vMin:-2, vMax:2,
  colTree:bColTree, rowTrees:bRowForest, stub:4, combs:[[7,0,59,.6],[13,59,92,.85]], names:bSamples, labelY:648, labelSize:12, labelLen:80});
drawHeat({id:"d", opacity:.74, cols:[dCol1,dCol2], left:1210.3, right:2186, top:893, bottom:1380, vMin:0, vMax:1,
  colTree:dColTree, rowTrees:[dRowTree], stub:0, combs:[[3,0,48,.75]], names:dSamples, labelY:1386, labelSize:15, labelLen:105});
</script>
</body>
</html>
